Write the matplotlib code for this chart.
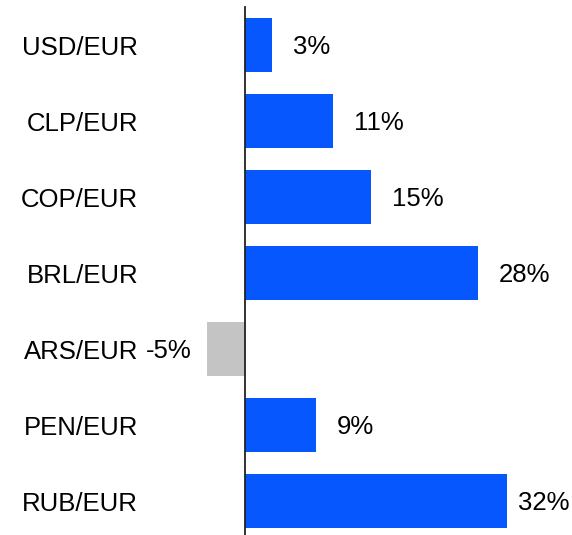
import matplotlib.pyplot as plt

# currency pairs, top to bottom
pairs = ["USD/EUR", "CLP/EUR", "COP/EUR", "BRL/EUR", "ARS/EUR", "PEN/EUR", "RUB/EUR"]
change = [3.3, 10.7, 15.4, 28.4, -4.6, 8.7, 32.0]   # % change vs EUR

BLUE = "#0757FF"
GREY = "#C4C4C4"

plt.rcParams["font.family"] = ["Liberation Sans", "DejaVu Sans"]

fig = plt.figure(figsize=(5.72, 5.35), dpi=100)
ax = fig.add_axes([200 / 572, -4 / 535, 372 / 572, 532 / 535])

colors = [BLUE if v >= 0 else GREY for v in change]
ypos = list(range(len(pairs)))
ax.barh(ypos, change, height=0.71, color=colors)

ax.set_xlim(-5.5, 39.9)
ax.set_ylim(len(pairs) - 0.5, -0.5)

ax.set_yticks(ypos)
ax.set_yticklabels(pairs)
ax.tick_params(axis="y", length=0, pad=77, labelsize=18.5)
ax.set_xticks([])

for s in ["top", "right", "bottom"]:
    ax.spines[s].set_visible(False)
ax.spines["left"].set_position(("data", 0))
ax.spines["left"].set_linewidth(1.3)
ax.spines["left"].set_color("#222222")

# value labels
vmax = max(change)
for y, v in zip(ypos, change):
    txt = f"{v:.0f}%"
    if v >= 0:
        pad = 8 if v == vmax else 15
        ax.annotate(txt, (v, y), xytext=(pad, -1.5), textcoords="offset points",
                    ha="left", va="center", fontsize=18.5)
    else:
        ax.annotate(txt, (v, y), xytext=(-11, -1.5), textcoords="offset points",
                    ha="right", va="center", fontsize=18.5)

fig.savefig("out.png", dpi=100)
